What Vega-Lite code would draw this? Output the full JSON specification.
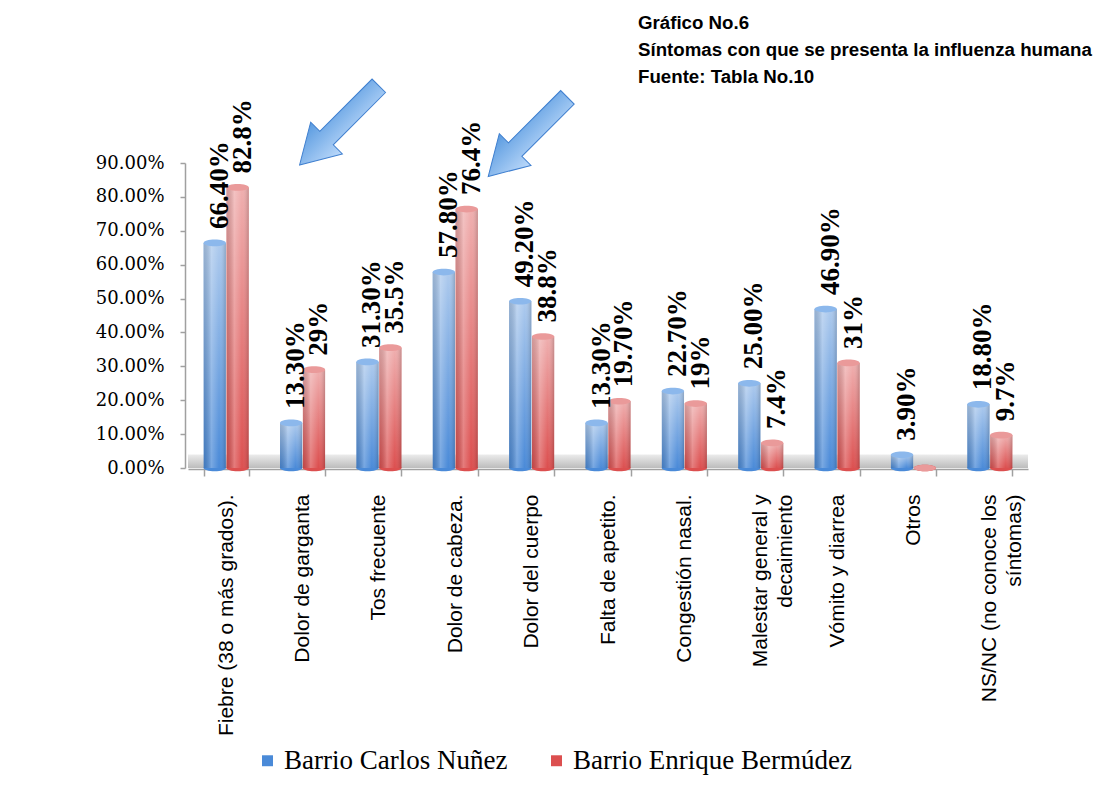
{
  "$schema": "https://vega.github.io/schema/vega-lite/v6.json",
  "width": 840,
  "height": 305,
  "autosize": {"type": "none"},
  "padding": {"left": 188, "top": 163, "right": 84, "bottom": 328},
  "background": "white",
  "config": {"view": {"stroke": null}},
  "title": {
    "text": ["Gráfico No.6", "Síntomas con que se presenta la influenza humana", "Fuente: Tabla No.10"],
    "anchor": "start",
    "frame": "group",
    "font": "Liberation Sans",
    "fontSize": 18.7,
    "fontWeight": "bold",
    "color": "black",
    "lineHeight": 27,
    "dx": 450,
    "offset": -10
  },
  "datasets": {
    "sintomas": [
      {"sintoma": "Fiebre (38 o más grados).", "barrio": "Barrio Carlos Nuñez", "v": 0.664, "etiqueta": "66.40%"},
      {"sintoma": "Fiebre (38 o más grados).", "barrio": "Barrio Enrique Bermúdez", "v": 0.828, "etiqueta": "82.8%"},
      {"sintoma": "Dolor de garganta", "barrio": "Barrio Carlos Nuñez", "v": 0.133, "etiqueta": "13.30%"},
      {"sintoma": "Dolor de garganta", "barrio": "Barrio Enrique Bermúdez", "v": 0.29, "etiqueta": "29%"},
      {"sintoma": "Tos frecuente", "barrio": "Barrio Carlos Nuñez", "v": 0.313, "etiqueta": "31.30%"},
      {"sintoma": "Tos frecuente", "barrio": "Barrio Enrique Bermúdez", "v": 0.355, "etiqueta": "35.5%"},
      {"sintoma": "Dolor de cabeza.", "barrio": "Barrio Carlos Nuñez", "v": 0.578, "etiqueta": "57.80%"},
      {"sintoma": "Dolor de cabeza.", "barrio": "Barrio Enrique Bermúdez", "v": 0.764, "etiqueta": "76.4%"},
      {"sintoma": "Dolor del cuerpo", "barrio": "Barrio Carlos Nuñez", "v": 0.492, "etiqueta": "49.20%"},
      {"sintoma": "Dolor del cuerpo", "barrio": "Barrio Enrique Bermúdez", "v": 0.388, "etiqueta": "38.8%"},
      {"sintoma": "Falta de apetito.", "barrio": "Barrio Carlos Nuñez", "v": 0.133, "etiqueta": "13.30%"},
      {"sintoma": "Falta de apetito.", "barrio": "Barrio Enrique Bermúdez", "v": 0.197, "etiqueta": "19.70%"},
      {"sintoma": "Congestión nasal.", "barrio": "Barrio Carlos Nuñez", "v": 0.227, "etiqueta": "22.70%"},
      {"sintoma": "Congestión nasal.", "barrio": "Barrio Enrique Bermúdez", "v": 0.19, "etiqueta": "19%"},
      {"sintoma": "Malestar general y|decaimiento", "barrio": "Barrio Carlos Nuñez", "v": 0.25, "etiqueta": "25.00%"},
      {"sintoma": "Malestar general y|decaimiento", "barrio": "Barrio Enrique Bermúdez", "v": 0.074, "etiqueta": "7.4%"},
      {"sintoma": "Vómito y diarrea", "barrio": "Barrio Carlos Nuñez", "v": 0.469, "etiqueta": "46.90%"},
      {"sintoma": "Vómito y diarrea", "barrio": "Barrio Enrique Bermúdez", "v": 0.31, "etiqueta": "31%"},
      {"sintoma": "Otros", "barrio": "Barrio Carlos Nuñez", "v": 0.039, "etiqueta": "3.90%"},
      {"sintoma": "Otros", "barrio": "Barrio Enrique Bermúdez", "v": 0, "etiqueta": ""},
      {"sintoma": "NS/NC (no conoce los|síntomas)", "barrio": "Barrio Carlos Nuñez", "v": 0.188, "etiqueta": "18.80%"},
      {"sintoma": "NS/NC (no conoce los|síntomas)", "barrio": "Barrio Enrique Bermúdez", "v": 0.097, "etiqueta": "9.7%"}
    ],
    "flechas": [
      {"posicion": 1.98, "altura": 1.011},
      {"posicion": 4.45, "altura": 0.977}
    ]
  },
  "layer": [
    {
      "data": {"name": "sintomas"},
      "layer": [
        {
          "data": {"values": [{}]},
          "mark": {
            "type": "rect",
            "fill": {
              "gradient": "linear", "x1": 0, "y1": 0, "x2": 0, "y2": 1,
              "stops": [{"offset": 0, "color": "#ececec"}, {"offset": 1, "color": "#bcbcbc"}]
            }
          },
          "encoding": {
            "y": {
              "datum": 0, "type": "quantitative", "title": null,
              "scale": {"domain": [0, 0.9], "nice": false},
              "axis": {
                "values": [0, 0.1, 0.2, 0.3, 0.4, 0.5, 0.6, 0.7, 0.8, 0.9],
                "format": ".2%", "grid": false, "labelOverlap": false, "tickCount": 10,
                "labelFont": "DejaVu Serif", "labelFontSize": 18, "labelColor": "black",
                "labelPadding": 16, "domainColor": "#a0a0a0", "domainWidth": 1.5,
                "tickColor": "#a0a0a0", "tickSize": 5, "tickWidth": 1.5, "offset": 3, "title": null
              }
            },
            "y2": {"datum": 0.04}
          }
        },
        {
          "mark": {"type": "point", "filled": true, "opacity": 1, "size": 500, "xOffset": 7,
                   "shape": "M-1,0A1,0.3,0,1,1,1,0A1,0.3,0,1,1,-1,0Z"},
          "encoding": {
            "x": {"field": "sintoma", "type": "nominal", "sort": null, "title": null,
                  "scale": {"paddingInner": 0.41, "paddingOuter": 0.205}},
            "xOffset": {"field": "barrio", "type": "nominal", "scale": {"paddingInner": 0.03}},
            "y": {"datum": 0, "type": "quantitative", "scale": {"domain": [0, 0.9], "nice": false}, "title": null},
            "color": {"field": "barrio", "type": "nominal"}
          }
        },
        {
          "mark": {"type": "bar", "xOffset": 7},
          "encoding": {
            "x": {
              "field": "sintoma", "type": "nominal", "sort": null, "title": null,
              "scale": {"paddingInner": 0.41, "paddingOuter": 0.205},
              "axis": {
                "labelAngle": -90, "labelAlign": "right", "labelBaseline": "middle",
                "labelFont": "Liberation Sans", "labelFontSize": 21, "labelColor": "black",
                "labelPadding": 18, "labelLimit": 400, "labelLineHeight": 25,
                "labelExpr": "split(datum.label, '|')",
                "domainColor": "#a0a0a0", "domainWidth": 1.5,
                "tickColor": "#a0a0a0", "tickSize": 7, "tickWidth": 1.5, "tickBand": "extent",
                "title": null, "offset": 1
              }
            },
            "xOffset": {"field": "barrio", "type": "nominal", "scale": {"paddingInner": 0.03}},
            "y": {
              "field": "v", "type": "quantitative", "title": null,
              "scale": {"domain": [0, 0.9], "nice": false},
              "axis": {
                "values": [0, 0.1, 0.2, 0.3, 0.4, 0.5, 0.6, 0.7, 0.8, 0.9],
                "format": ".2%", "grid": false, "labelOverlap": false, "tickCount": 10,
                "labelFont": "DejaVu Serif", "labelFontSize": 18, "labelColor": "black",
                "labelPadding": 16, "domainColor": "#a0a0a0", "domainWidth": 1.5,
                "tickColor": "#a0a0a0", "tickSize": 5, "tickWidth": 1.5, "offset": 3, "title": null
              }
            },
            "color": {
              "field": "barrio", "type": "nominal",
              "scale": {"domain": ["Barrio Carlos Nuñez", "Barrio Enrique Bermúdez"], "range": ["#4a8ad8", "#dc4f4f"]},
              "legend": {
                "orient": "none", "legendX": 66, "legendY": 584, "direction": "horizontal",
                "title": null, "symbolType": "square", "symbolSize": 120, "symbolOpacity": 1,
                "symbolStrokeWidth": 0,
                "labelFont": "Liberation Serif", "labelFontSize": 27, "labelColor": "black",
                "labelLimit": 400, "labelOffset": 3, "columnPadding": 35
              }
            }
          }
        },
        {
          "mark": {
            "type": "bar", "xOffset": 7,
            "fill": {
              "gradient": "linear", "x1": 0, "y1": 0, "x2": 0, "y2": 1,
              "stops": [
                {"offset": 0, "color": "rgba(255,255,255,0.55)"},
                {"offset": 1, "color": "rgba(255,255,255,0)"}
              ]
            }
          },
          "encoding": {
            "x": {"field": "sintoma", "type": "nominal", "sort": null, "title": null,
                  "scale": {"paddingInner": 0.41, "paddingOuter": 0.205}},
            "xOffset": {"field": "barrio", "type": "nominal", "scale": {"paddingInner": 0.03}},
            "y": {"field": "v", "type": "quantitative", "title": null, "scale": {"domain": [0, 0.9], "nice": false}}
          }
        },
        {
          "mark": {
            "type": "bar", "xOffset": 7,
            "fill": {
              "gradient": "linear", "x1": 0, "y1": 0, "x2": 1, "y2": 0,
              "stops": [
                {"offset": 0, "color": "rgba(0,0,0,0.12)"},
                {"offset": 0.35, "color": "rgba(255,255,255,0.25)"},
                {"offset": 0.7, "color": "rgba(255,255,255,0)"},
                {"offset": 1, "color": "rgba(0,0,0,0.18)"}
              ]
            }
          },
          "encoding": {
            "x": {"field": "sintoma", "type": "nominal", "sort": null, "title": null,
                  "scale": {"paddingInner": 0.41, "paddingOuter": 0.205}},
            "xOffset": {"field": "barrio", "type": "nominal", "scale": {"paddingInner": 0.03}},
            "y": {"field": "v", "type": "quantitative", "title": null, "scale": {"domain": [0, 0.9], "nice": false}}
          }
        },
        {
          "mark": {"type": "point", "filled": true, "opacity": 1, "size": 500, "xOffset": 7,
                   "shape": "M-1,0A1,0.3,0,1,1,1,0A1,0.3,0,1,1,-1,0Z"},
          "encoding": {
            "x": {"field": "sintoma", "type": "nominal", "sort": null, "title": null,
                  "scale": {"paddingInner": 0.41, "paddingOuter": 0.205}},
            "xOffset": {"field": "barrio", "type": "nominal", "scale": {"paddingInner": 0.03}},
            "y": {"field": "v", "type": "quantitative", "title": null, "scale": {"domain": [0, 0.9], "nice": false}},
            "fill": {
              "field": "barrio", "type": "nominal", "legend": null,
              "scale": {"domain": ["Barrio Carlos Nuñez", "Barrio Enrique Bermúdez"], "range": ["#8cb8ec", "#ea9a9a"]}
            }
          }
        },
        {
          "transform": [{"filter": "datum.etiqueta != ''"}],
          "mark": {
            "type": "text", "angle": 270, "align": "left", "baseline": "middle", "dx": 14, "dy": 5,
            "font": "Liberation Serif", "fontSize": 27, "fontWeight": "bold", "color": "black"
          },
          "encoding": {
            "x": {"field": "sintoma", "type": "nominal", "sort": null, "title": null,
                  "scale": {"paddingInner": 0.41, "paddingOuter": 0.205}},
            "xOffset": {"field": "barrio", "type": "nominal", "scale": {"paddingInner": 0.03}},
            "y": {"field": "v", "type": "quantitative", "title": null, "scale": {"domain": [0, 0.9], "nice": false}},
            "text": {"field": "etiqueta"}
          }
        }
      ]
    },
    {
      "data": {"name": "flechas"},
      "mark": {
        "type": "point", "filled": true, "opacity": 1, "size": 12544, "angle": 135,
        "shape": "M-1,-0.17L0.32,-0.17L0.32,-0.4L1,0L0.32,0.4L0.32,0.17L-1,0.17Z",
        "fill": {
          "gradient": "linear", "x1": 0, "y1": 0, "x2": 0, "y2": 1,
          "stops": [{"offset": 0, "color": "#bcd9fa"}, {"offset": 1, "color": "#5a9be0"}]
        },
        "stroke": "#3f7fcf", "strokeWidth": 1
      },
      "encoding": {
        "x": {"field": "posicion", "type": "quantitative", "axis": null, "scale": {"domain": [0, 11], "nice": false, "zero": false}},
        "y": {"field": "altura", "type": "quantitative", "axis": null, "scale": {"domain": [0, 0.9], "nice": false}}
      }
    }
  ],
  "resolve": {"scale": {"x": "independent", "y": "independent"}}
}
